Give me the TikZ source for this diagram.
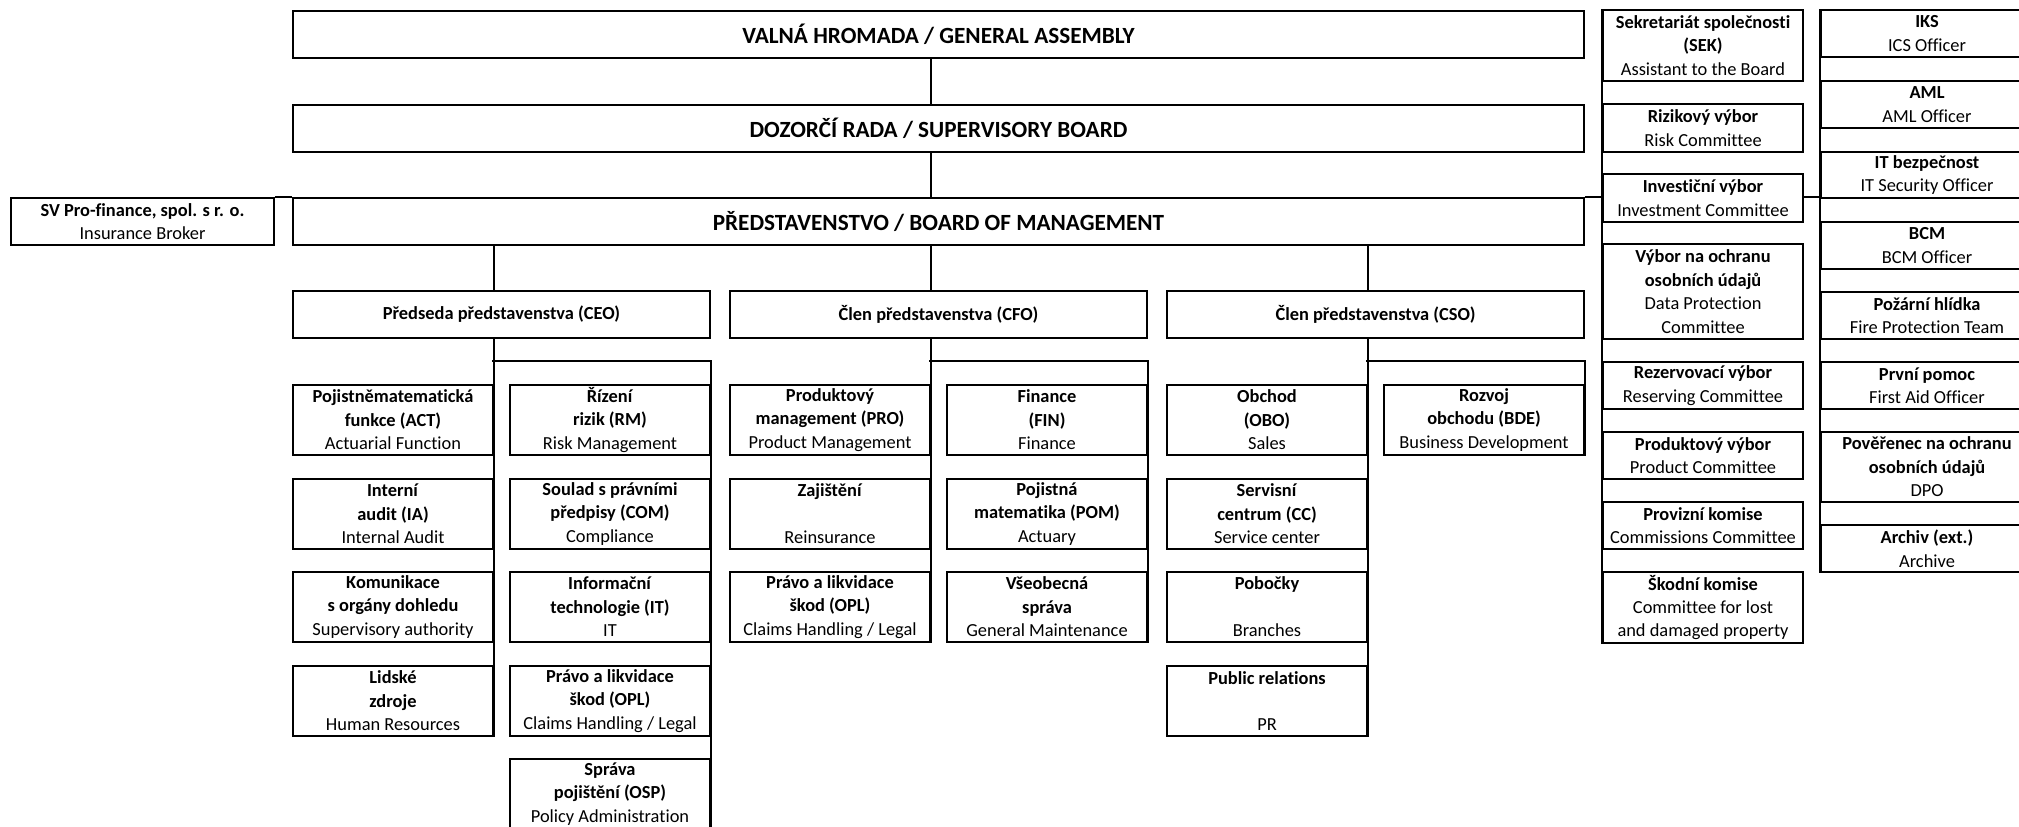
\documentclass[tikz,border=0pt]{standalone}
\usepackage{fontspec}
\setmainfont{Carlito}[Ligatures=NoCommon]
\begin{document}
\begin{tikzpicture}[x=0.75pt,y=-0.75pt,line width=1.5pt,
    every node/.style={font=\fontsize{13.8}{17.6}\selectfont},
    orgbox/.style 2 args={draw,inner sep=0pt,anchor=north west,align=center,
      minimum width=#1*0.75pt,minimum height=#2*0.75pt},
    wide/.style={orgbox={1291}{47},font=\fontsize{17.4}{21}\selectfont\bfseries},
    head/.style={orgbox={417}{47}},
    dept/.style={orgbox={200}{70}},
    cttee/.style={orgbox={200}{#1}},
    officer/.style={orgbox={212}{#1}}]
\clip (0,0) rectangle (2019,826);
\node[wide] (valna) at (292,10) {VALNÁ HROMADA / GENERAL ASSEMBLY};
\node[wide] (dozor) at (292,104) {DOZORČÍ RADA / SUPERVISORY BOARD};
\node[wide] (board) at (292,197) {PŘEDSTAVENSTVO / BOARD OF MANAGEMENT};
\node[orgbox={263}{47}] (sv) at (10,197) {\textbf{SV Pro-finance, spol. s r. o.}\\Insurance Broker};
\node[head] (ceo) at (292,290) {\textbf{Předseda představenstva (CEO)}};
\node[head] (cfo) at (729,290) {\textbf{Člen představenstva (CFO)}};
\node[head] (cso) at (1166,290) {\textbf{Člen představenstva (CSO)}};
\node[dept] (act) at (292,384) {\textbf{Pojistněmatematická}\\\textbf{funkce (ACT)}\\Actuarial Function};
\node[dept] (ia) at (292,478) {\textbf{Interní}\\\textbf{audit (IA)}\\Internal Audit};
\node[dept] (kom) at (292,571) {\textbf{Komunikace}\\\textbf{s orgány dohledu}\\Supervisory authority};
\node[dept] (hr) at (292,665) {\textbf{Lidské}\\\textbf{zdroje}\\Human Resources};
\node[dept] (rm) at (509,384) {\textbf{Řízení}\\\textbf{rizik (RM)}\\Risk Management};
\node[dept] (com) at (509,478) {\textbf{Soulad s právními}\\\textbf{předpisy (COM)}\\Compliance};
\node[dept] (it) at (509,571) {\textbf{Informační}\\\textbf{technologie (IT)}\\IT};
\node[dept] (opl) at (509,665) {\textbf{Právo a likvidace}\\\textbf{škod (OPL)}\\Claims Handling / Legal};
\node[dept] (osp) at (509,758) {\textbf{Správa}\\\textbf{pojištění (OSP)}\\Policy Administration};
\node[dept] (pro) at (729,384) {\textbf{Produktový}\\\textbf{management (PRO)}\\Product Management};
\node[dept] (zaj) at (729,478) {\textbf{Zajištění}\\\strut\\Reinsurance};
\node[dept] (pravo) at (729,571) {\textbf{Právo a likvidace}\\\textbf{škod (OPL)}\\Claims Handling / Legal};
\node[dept] (fin) at (946,384) {\textbf{Finance}\\\textbf{(FIN)}\\Finance};
\node[dept] (pom) at (946,478) {\textbf{Pojistná}\\\textbf{matematika (POM)}\\Actuary};
\node[dept] (vseob) at (946,571) {\textbf{Všeobecná}\\\textbf{správa}\\General Maintenance};
\node[dept] (obo) at (1166,384) {\textbf{Obchod}\\\textbf{(OBO)}\\Sales};
\node[dept] (cc) at (1166,478) {\textbf{Servisní}\\\textbf{centrum (CC)}\\Service center};
\node[dept] (pob) at (1166,571) {\textbf{Pobočky}\\\strut\\Branches};
\node[dept] (pr) at (1166,665) {\textbf{Public relations}\\\strut\\PR};
\node[dept] (bde) at (1383,384) {\textbf{Rozvoj}\\\textbf{obchodu (BDE)}\\Business Development};
\node[cttee=71] (sek) at (1602,9) {\textbf{Sekretariát společnosti}\\\textbf{(SEK)}\\Assistant to the Board};
\node[cttee=48] (riz) at (1602,103) {\textbf{Rizikový výbor}\\Risk Committee};
\node[cttee=48] (inv) at (1602,173) {\textbf{Investiční výbor}\\Investment Committee};
\node[cttee=95] (vybor) at (1602,243) {\textbf{Výbor na ochranu}\\\textbf{osobních údajů}\\Data Protection\\Committee};
\node[cttee=47] (rez) at (1602,361) {\textbf{Rezervovací výbor}\\Reserving Committee};
\node[cttee=47] (prodv) at (1602,431) {\textbf{Produktový výbor}\\Product Committee};
\node[cttee=47] (prov) at (1602,501) {\textbf{Provizní komise}\\Commissions Committee};
\node[cttee=71] (skod) at (1602,571) {\textbf{Škodní komise}\\Committee for lost\\and damaged property};
\node[officer=47] (iks) at (1820,9) {\textbf{IKS}\\ICS Officer};
\node[officer=47] (aml) at (1820,80) {\textbf{AML}\\AML Officer};
\node[officer=46] (itsec) at (1820,151) {\textbf{IT bezpečnost}\\IT Security Officer};
\node[officer=47] (bcm) at (1820,221) {\textbf{BCM}\\BCM Officer};
\node[officer=47] (pozar) at (1820,291) {\textbf{Požární hlídka}\\Fire Protection Team};
\node[officer=47] (prvni) at (1820,361) {\textbf{První pomoc}\\First Aid Officer};
\node[officer=70] (dpo) at (1820,431) {\textbf{Pověřenec na ochranu}\\\textbf{osobních údajů}\\DPO};
\node[officer=47] (archiv) at (1820,524) {\textbf{Archiv (ext.)}\\Archive};
\coordinate (ceoj) at (492,361);
\coordinate (cfoj) at (929,361);
\coordinate (csoj) at (1366,361);
\draw (sv.north east) -- (board.north west);
\draw (valna.south -| pro.east) -- (dozor.north -| pro.east);
\draw (dozor.south -| pro.east) -- (board.north -| pro.east);
\draw (board.south -| act.east) -- (ceo.north -| act.east);
\draw (board.south -| pro.east) -- (cfo.north -| pro.east);
\draw (board.south -| obo.east) -- (cso.north -| obo.east);
\draw (ceo.south -| act.east) -- (hr.south east);
\draw (cfo.south -| pro.east) -- (pravo.south east);
\draw (cso.south -| obo.east) -- (pr.south east);
\draw (ceoj) -- (ceoj -| ceo.east) -- (osp.south east);
\draw (cfoj) -- (cfoj -| cfo.east) -- (vseob.south east);
\draw (csoj) -- (csoj -| cso.east) -- (bde.south east);
\draw (sek.north west) -- (skod.south west);
\draw (iks.north west) -- (archiv.south west);
\draw (board.north east) -- (board.north east -| sek.west);
\draw (board.north east -| sek.east) -- (board.north east -| iks.west);
\end{tikzpicture}
\end{document}
